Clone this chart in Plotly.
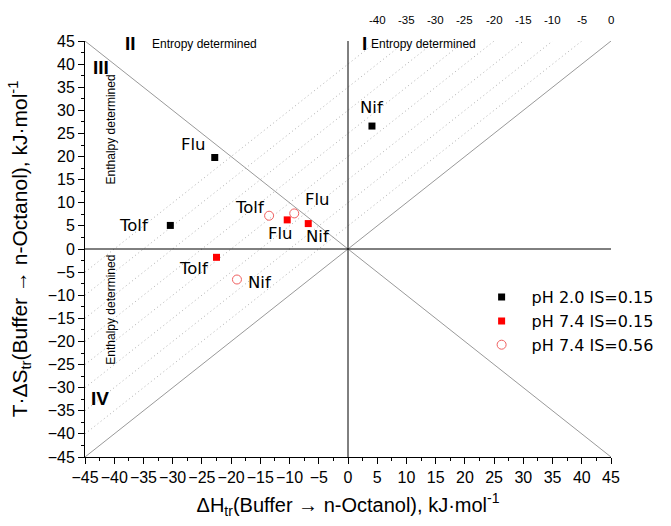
import plotly.graph_objects as go

# Data (ΔH_tr, T·ΔS_tr) in kJ/mol
names = ["Flu", "Tolf", "Nif"]
ph20_x = [-22.8, -30.4, 4.1]
ph20_y = [19.8, 5.1, 26.6]
ph74_x = [-10.4, -22.5, -6.8]
ph74_y = [6.3, -1.8, 5.5]
ph74b_x = [-9.2, -13.5, -19.0]
ph74b_y = [7.7, 7.2, -6.6]
dG_levels = [-40, -35, -30, -25, -20, -15, -10, -5]
dG_labels = ["-40", "-35", "-30", "-25", "-20", "-15", "-10", "-5", "0"]
ticks = list(range(-45, 50, 5))

FONT = "Arial, Liberation Sans, sans-serif"
WFONT = "DejaVu Sans, Verdana, sans-serif"
fig = go.Figure()

# iso-ΔG dotted lines: TΔS = ΔH - ΔG
for g in dG_levels:
    xs = [-45, 45 + g]
    ys = [x - g for x in xs]
    fig.add_trace(go.Scatter(x=xs, y=ys, mode="lines", showlegend=False, hoverinfo="skip",
                             line=dict(color="#b0b0b0", width=1, dash="1px,3px")))
# diagonals
fig.add_trace(go.Scatter(x=[-45, 45], y=[-45, 45], mode="lines", showlegend=False, hoverinfo="skip",
                         line=dict(color="#999999", width=1)))
fig.add_trace(go.Scatter(x=[-45, 45], y=[45, -45], mode="lines", showlegend=False, hoverinfo="skip",
                         line=dict(color="#999999", width=1)))
# zero lines
fig.add_trace(go.Scatter(x=[0, 0], y=[-45, 45], mode="lines", showlegend=False, hoverinfo="skip",
                         line=dict(color="black", width=1)))
fig.add_trace(go.Scatter(x=[-45, 45], y=[0, 0], mode="lines", showlegend=False, hoverinfo="skip",
                         line=dict(color="black", width=1)))

fig.add_trace(go.Scatter(x=ph20_x, y=ph20_y, mode="markers", name="pH 2.0 IS=0.15",
                         marker=dict(symbol="square", size=7, color="black")))
fig.add_trace(go.Scatter(x=ph74_x, y=ph74_y, mode="markers", name="pH 7.4 IS=0.15",
                         marker=dict(symbol="square", size=7, color="red")))
fig.add_trace(go.Scatter(x=ph74b_x, y=ph74b_y, mode="markers", name="pH 7.4 IS=0.56",
                         marker=dict(symbol="circle-open", size=9, color="#f06060", line=dict(width=1))))

# point labels (xshift, yshift in px)
off20 = [(-21, 13), (-36, 0), (0, 19)]
off74 = [(-7, -14), (-23, -11), (10, -13)]
off74b = [(23, 14), (-19, 8), (23, -3)]
for xs_, ys_, offs in [(ph20_x, ph20_y, off20), (ph74_x, ph74_y, off74), (ph74b_x, ph74b_y, off74b)]:
    for n, x, y, (dx, dy) in zip(names, xs_, ys_, offs):
        fig.add_annotation(x=x, y=y, text=n, showarrow=False, xshift=dx, yshift=dy,
                           font=dict(size=16.5, color="black", family=WFONT))

# ΔG labels on top
for i, lab in enumerate(dG_labels):
    g = float(lab)
    fig.add_annotation(x=45 + g, y=45, text=lab, showarrow=False, yshift=21,
                       font=dict(size=11.5, color="black", family=FONT))

# quadrant labels
fig.add_annotation(x=-37.3, y=44.4, text="<b>II</b>", showarrow=False, font=dict(size=19, family=FONT, color="black"))
fig.add_annotation(x=-33.9, y=44.4, text="Entropy determined", showarrow=False, xanchor="left",
                   font=dict(size=12, family=FONT, color="black"))
fig.add_annotation(x=2.9, y=44.4, text="<b>I</b>", showarrow=False, font=dict(size=19, family=FONT, color="black"))
fig.add_annotation(x=3.6, y=44.4, text="Entropy determined", showarrow=False, xanchor="left",
                   font=dict(size=12, family=FONT, color="black"))
fig.add_annotation(x=-42.3, y=39.2, text="<b>III</b>", showarrow=False, font=dict(size=19, family=FONT, color="black"))
fig.add_annotation(x=-42.4, y=-32.3, text="<b>IV</b>", showarrow=False, font=dict(size=19, family=FONT, color="black"))
fig.add_annotation(x=-40.6, y=25.8, text="Enthalpy determined", showarrow=False, textangle=-90,
                   font=dict(size=12, family=FONT, color="black"))
fig.add_annotation(x=-40.6, y=-13.2, text="Enthalpy determined", showarrow=False, textangle=-90,
                   font=dict(size=12, family=FONT, color="black"))

axis_common = dict(range=[-45, 45], tickvals=ticks, ticks="outside", ticklen=6, tickwidth=1,
                   tickcolor="black", showline=True, linecolor="black", linewidth=1,
                   showgrid=False, zeroline=False, mirror=False, automargin=False, tickangle=0,
                   tickfont=dict(size=16, family=FONT, color="black"),
                   minor=dict(ticks="outside", ticklen=3, dtick=2.5, tick0=0, tickcolor="black", showgrid=False))

fig.update_layout(
    width=671, height=526,
    margin=dict(l=85, r=60, t=41, b=69),
    plot_bgcolor="white", paper_bgcolor="white",
    font=dict(family=FONT, color="black"),
    xaxis=dict(**axis_common,
               title=dict(text="ΔH<sub>tr</sub>(Buffer → n-Octanol), kJ·mol<sup>-1</sup>",
                          font=dict(size=20, family=FONT, color="black"), standoff=12)),
    yaxis=dict(**axis_common,
               title=dict(text="T·ΔS<sub>tr</sub>(Buffer → n-Octanol), kJ·mol<sup>-1</sup>",
                          font=dict(size=21, family=FONT, color="black"), standoff=14)),
    legend=dict(x=0.735, y=0.425, xanchor="left", yanchor="top", bgcolor="rgba(0,0,0,0)",
                font=dict(size=16, family=WFONT, color="black"), tracegroupgap=0, itemwidth=50),
)

fig.write_html("out.html", config={"displayModeBar": False},
               post_script="document.body.style.margin='0px';")
